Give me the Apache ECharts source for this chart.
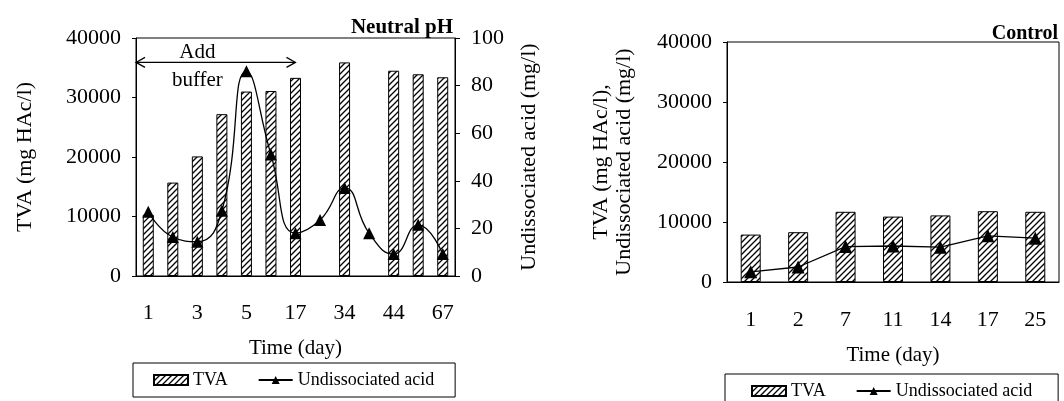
<!DOCTYPE html>
<html><head><meta charset="utf-8">
<script src="https://cdn.jsdelivr.net/npm/echarts@6/dist/echarts.min.js"></script>
<style>html,body{margin:0;padding:0;background:#fff}#c{width:1064px;height:401px}</style>
</head><body><div id="c"></div>
<script>
// ---- data ----
const leftCategories = ['1','2','3','4','5','10','17','24','34','38','44','55','67'];
const leftTVA = [10300, 15700, 20100, 27200, 31000, 31100, 33300, null, 35900, null, 34500, 33900, 33400];
const leftAcid = [27, 16.4, 14.4, 27.4, 86, 51, 18, 23.5, 37, 18, 9.2, 21.5, 9.2];
const rightCategories = ['1','2','7','11','14','17','25'];
const rightTVA = [7900, 8300, 11700, 10900, 11100, 11800, 11700];
const rightAcid = [1700, 2500, 5900, 6000, 5800, 7700, 7300];
const leftTitle = 'Neutral pH';
const rightTitle = 'Control';

const FONT = '"Liberation Serif", "Times New Roman", serif';
function hatch(){
  const c = document.createElement('canvas'); c.width = 6; c.height = 6;
  const g = c.getContext('2d');
  g.fillStyle = '#fff'; g.fillRect(0,0,6,6);
  g.strokeStyle = '#000'; g.lineWidth = 1.3;
  g.beginPath();
  g.moveTo(0,6); g.lineTo(6,0);
  g.moveTo(-1,1); g.lineTo(1,-1);
  g.moveTo(5,7); g.lineTo(7,5);
  g.stroke();
  return c;
}
const hatchFill = {image: hatch(), repeat: 'repeat'};
const black = '#000';
const txt = (s) => Object.assign({color: black, fontFamily: FONT, fontSize: 21}, s||{});
const plain = (v) => String(v);

const chart = echarts.init(document.getElementById('c'), null, {renderer: 'canvas'});
const option = {
  animation: false,
  backgroundColor: '#fff',
  title: [
    {text: leftTitle, right: 1064 - 458, top: 12, textStyle: txt({fontWeight: 'bold', fontSize: 21})},
    {text: rightTitle, right: 1, top: 19, textStyle: txt({fontWeight: 'bold', fontSize: 20})}
  ],
  grid: [
    {left: 136, top: 38, width: 319, height: 238, show: true, borderColor: black, borderWidth: 1, backgroundColor: 'transparent'},
    {left: 727, top: 42, width: 332, height: 240, show: true, borderColor: black, borderWidth: 1, backgroundColor: 'transparent'}
  ],
  legend: [
    {left: 133, top: 363, padding: [8, 21, 8, 20], itemGap: 30, itemWidth: 34, itemHeight: 10,
     borderColor: black, borderWidth: 1, textStyle: txt({fontSize: 18}),
     data: [{name: 'TVA', icon: 'rect'}, {name: 'Undissociated acid'}]},
    {left: 725, top: 374, padding: [8, 26, 8, 26], itemGap: 30, itemWidth: 34, itemHeight: 10,
     borderColor: black, borderWidth: 1, textStyle: txt({fontSize: 18}),
     data: [{name: 'TVA', icon: 'rect'}, {name: 'Undissociated acid'}]}
  ],
  xAxis: [
    {type: 'category', gridIndex: 0, data: leftCategories, boundaryGap: true,
     axisLine: {lineStyle: {color: black}}, axisTick: {interval: 1, length: 5, lineStyle: {color: black}},
     axisLabel: {interval: 1, margin: 26, ...txt({fontSize: 22})},
     name: 'Time (day)', nameLocation: 'middle', nameGap: 62, nameTextStyle: txt()},
    {type: 'category', gridIndex: 1, data: rightCategories, boundaryGap: true,
     axisLine: {lineStyle: {color: black}}, axisTick: {length: 5, lineStyle: {color: black}},
     axisLabel: {margin: 27, ...txt({fontSize: 22})},
     name: 'Time (day)', nameLocation: 'middle', nameGap: 63, nameTextStyle: txt()}
  ],
  yAxis: [
    {type: 'value', gridIndex: 0, min: 0, max: 40000, interval: 10000, splitLine: {show: false},
     axisLine: {show: true, lineStyle: {color: black}}, axisTick: {show: true, length: 4, lineStyle: {color: black}},
     axisLabel: {margin: 15, formatter: plain, ...txt({fontSize: 22})},
     name: 'TVA (mg HAc/l)', nameLocation: 'middle', nameRotate: 90, nameGap: 100, nameTextStyle: txt({fontSize: 22})},
    {type: 'value', gridIndex: 0, position: 'right', min: 0, max: 100, interval: 20, splitLine: {show: false},
     axisLine: {show: true, lineStyle: {color: black}}, axisTick: {show: true, length: 5, lineStyle: {color: black}},
     axisLabel: {margin: 16, formatter: plain, ...txt({fontSize: 22})},
     name: 'Undissociated acid (mg/l)', nameLocation: 'middle', nameRotate: 90, nameGap: 63, nameTextStyle: txt({fontSize: 22})},
    {type: 'value', gridIndex: 1, min: 0, max: 40000, interval: 10000, splitLine: {show: false},
     axisLine: {show: true, lineStyle: {color: black}}, axisTick: {show: true, length: 4, lineStyle: {color: black}},
     axisLabel: {margin: 15, formatter: plain, ...txt({fontSize: 22})},
     name: 'TVA (mg HAc/l),\nUndissociated acid (mg/l)', nameLocation: 'middle', nameRotate: 90, nameGap: 91,
     nameTextStyle: txt({fontSize: 22, lineHeight: 23})}
  ],
  series: [
    {name: 'TVA', type: 'bar', xAxisIndex: 0, yAxisIndex: 0, data: leftTVA, barWidth: 11,
     itemStyle: {color: hatchFill, borderColor: black, borderWidth: 1}},
    {name: 'Undissociated acid', type: 'line', xAxisIndex: 0, yAxisIndex: 1, data: leftAcid, smooth: 0.5,
     symbol: 'triangle', symbolSize: 12, lineStyle: {color: black, width: 1.3}, itemStyle: {color: black}},
    {name: 'TVA', type: 'bar', xAxisIndex: 1, yAxisIndex: 2, data: rightTVA, barWidth: 20,
     itemStyle: {color: hatchFill, borderColor: black, borderWidth: 1}},
    {name: 'Undissociated acid', type: 'line', xAxisIndex: 1, yAxisIndex: 2, data: rightAcid,
     symbol: 'triangle', symbolSize: 13, lineStyle: {color: black, width: 1.3}, itemStyle: {color: black}}
  ]
};
chart.setOption(option);

// annotation "Add buffer" positioned through the axes
const px = (i) => chart.convertToPixel({xAxisIndex: 0}, i);
const py = (v) => chart.convertToPixel({yAxisIndex: 0}, v);
const band = px(1) - px(0);
const ax0 = px(0) - band / 2, ax1 = px(6), ay = py(35900);
const hl = 9, hh = 5;
chart.setOption({graphic: [
  {type: 'line', shape: {x1: ax0, y1: ay, x2: ax1, y2: ay}, style: {stroke: black, lineWidth: 1.2}},
  {type: 'polyline', shape: {points: [[ax0 + hl, ay - hh], [ax0, ay], [ax0 + hl, ay + hh]]}, style: {stroke: black, lineWidth: 1.2, fill: null}},
  {type: 'polyline', shape: {points: [[ax1 - hl, ay - hh], [ax1, ay], [ax1 - hl, ay + hh]]}, style: {stroke: black, lineWidth: 1.2, fill: null}},
  {type: 'text', x: px(2), y: py(37500), style: {text: 'Add', fill: black, font: '21px ' + FONT, textAlign: 'center', textVerticalAlign: 'middle'}},
  {type: 'text', x: px(2), y: py(32900), style: {text: 'buffer', fill: black, font: '21px ' + FONT, textAlign: 'center', textVerticalAlign: 'middle'}}
]});
</script>
</body></html>
